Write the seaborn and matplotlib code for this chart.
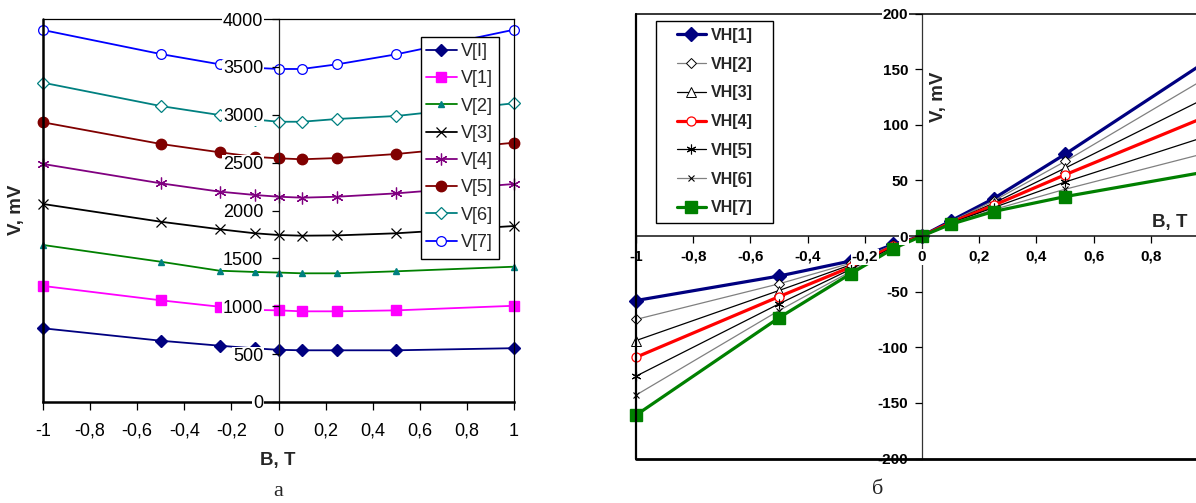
import matplotlib
matplotlib.use("Agg")
import matplotlib.pyplot as plt
import seaborn as sns
from matplotlib.patches import Rectangle

# ---------------- data ----------------
B = [-1, -0.5, -0.25, -0.1, 0, 0.1, 0.25, 0.5, 1]

# left chart (a): longitudinal voltage, mV
V_I = [770, 640, 588, 560, 545, 540, 540, 540, 562]
V_1 = [1212, 1062, 995, 962, 957, 947, 947, 957, 1005]
V_2 = [1640, 1465, 1371, 1358, 1352, 1344, 1344, 1365, 1413]
V_3 = [2068, 1883, 1804, 1762, 1744, 1737, 1740, 1762, 1838]
V_4 = [2486, 2284, 2197, 2162, 2144, 2134, 2144, 2179, 2277]
V_5 = [2921, 2695, 2608, 2560, 2545, 2535, 2548, 2590, 2708]
V_6 = [3335, 3091, 2997, 2950, 2927, 2927, 2956, 2987, 3120]
V_7 = [3885, 3634, 3527, 3490, 3478, 3478, 3527, 3631, 3888]
left_labels = ["V[I]", "V[1]", "V[2]", "V[3]", "V[4]", "V[5]", "V[6]", "V[7]"]

# right chart (б): Hall voltage, mV
VH_1 = [-58, -36, -22.5, -7.5, 0, 13.5, 33.6, 73.5, 158]
VH_2 = [-75, -43, -24.5, -8, 0, 13, 31.5, 67, 143]
VH_3 = [-94, -49, -26, -8.5, 0, 12.5, 29.5, 61, 125]
VH_4 = [-109, -54.5, -28, -9, 0, 12, 27.5, 55, 108]
VH_5 = [-126, -61, -30, -10, 0, 11.5, 25.5, 48.5, 90]
VH_6 = [-143, -67, -32, -10.5, 0, 11, 23.7, 42, 75]
VH_7 = [-161, -73.5, -34, -11.3, 0, 10.5, 22, 35.4, 58]
right_labels = ["VH[1]", "VH[2]", "VH[3]", "VH[4]", "VH[5]", "VH[6]", "VH[7]"]

x_ticks = [-1, -0.8, -0.6, -0.4, -0.2, 0, 0.2, 0.4, 0.6, 0.8, 1]
x_ticklabels = ["-1", "-0,8", "-0,6", "-0,4", "-0,2", "0", "0,2", "0,4", "0,6", "0,8", "1"]
right_x_ticks = [-1, -0.8, -0.6, -0.4, -0.2, 0, 0.2, 0.4, 0.6, 0.8]
right_x_ticklabels = ["-1", "-0,8", "-0,6", "-0,4", "-0,2", "0", "0,2", "0,4", "0,6", "0,8"]
left_yticks = [0, 500, 1000, 1500, 2000, 2500, 3000, 3500, 4000]
right_yticks = [-200, -150, -100, -50, 0, 50, 100, 150, 200]

# ---------------- styles ----------------
left_styles = [
    dict(color="#000080", marker="D", ms=6, mfc="#000080", mec="#000080", mew=1),
    dict(color="#FF00FF", marker="s", ms=7.5, mfc="#FF00FF", mec="#FF00FF", mew=1),
    dict(color="#008000", marker="^", ms=5, mfc="#008080", mec="#008080", mew=1),
    dict(color="#000000", marker="x", ms=6.5, mfc="none", mec="#000000", mew=0.9),
    dict(color="#800080", marker=(6, 2, 0), ms=8.5, mfc="none", mec="#800080", mew=0.9),
    dict(color="#800000", marker="o", ms=7.5, mfc="#800000", mec="#800000", mew=1),
    dict(color="#008080", marker="D", ms=6.5, mfc="white", mec="#008080", mew=0.9),
    dict(color="#0000FF", marker="o", ms=7, mfc="white", mec="#0000FF", mew=0.9),
]
right_styles = [
    dict(color="#000080", lw=2.3, marker="D", ms=7, mfc="#000080", mec="#000080", mew=1),
    dict(color="#808080", lw=0.9, marker="D", ms=5.5, mfc="white", mec="#000000", mew=0.7),
    dict(color="#000000", lw=0.9, marker="^", ms=6.5, mfc="white", mec="#000000", mew=0.7),
    dict(color="#FF0000", lw=2.3, marker="o", ms=6.5, mfc="white", mec="#FF0000", mew=0.9),
    dict(color="#000000", lw=0.9, marker=(6, 2, 0), ms=7, mfc="none", mec="#000000", mew=0.8),
    dict(color="#808080", lw=0.9, marker="x", ms=5, mfc="none", mec="#000000", mew=0.8),
    dict(color="#008000", lw=2.3, marker="s", ms=8, mfc="#008000", mec="#008000", mew=1),
]

sns.set_theme(style="white")
plt.rcParams["font.family"] = ["Liberation Sans", "DejaVu Sans"]
plt.rcParams["legend.numpoints"] = 1

W, H = 1196, 503
fig = plt.figure(figsize=(W / 100, H / 100), dpi=100)
fig.patch.set_facecolor("white")

def fx(px):
    return px / W

def fy(py):
    return 1 - py / H

# ---------------- left chart ----------------
axL = fig.add_axes([fx(43), fy(402), fx(514) - fx(43), fy(19) - fy(402)])
axL.set_facecolor("white")
for vals, lbl, st in zip([V_I, V_1, V_2, V_3, V_4, V_5, V_6, V_7], left_labels, left_styles):
    sns.lineplot(x=B, y=vals, ax=axL, label=lbl, lw=1.3, clip_on=False, zorder=2, **st)
axL.set_xlim(-1, 1)
axL.set_ylim(0, 4000)
axL.set_axisbelow(False)
axL.set_xticks(x_ticks, x_ticklabels)
axL.set_yticks(left_yticks, [str(v) for v in left_yticks])
axL.spines["left"].set_position(("data", 0))
axL.spines["left"].set_linewidth(0.9)
axL.spines["left"].set_color("#222222")
axL.spines["bottom"].set_linewidth(1.8)
axL.spines["bottom"].set_color("black")
for s in ["top", "right"]:
    axL.spines[s].set_linewidth(0.9)
    axL.spines[s].set_color("black")
axL.axvline(-1, color="black", lw=1.8, zorder=2.6, clip_on=False)
axL.tick_params(axis="y", direction="out", length=5, width=0.9, labelsize=13, pad=6, left=True, colors="black")
axL.tick_params(axis="x", direction="out", length=6, width=0.9, labelsize=13, pad=9, bottom=True, colors="black")
for t in axL.get_yticklabels():
    t.set_bbox(dict(facecolor="white", edgecolor="none", pad=0.5))
axL.set_xlabel("")
axL.set_ylabel("")
if axL.get_legend() is not None:
    axL.get_legend().remove()

hL, lL = axL.get_legend_handles_labels()
fig.add_artist(Rectangle((fx(421), fy(259)), fx(499) - fx(421), fy(37) - fy(259),
                         transform=fig.transFigure, facecolor="white", edgecolor="black",
                         lw=1.0, zorder=4))
fig.legend(hL, lL, loc="upper left", bbox_to_anchor=(fx(426), fy(43)),
           bbox_transform=fig.transFigure, frameon=False, fontsize=13,
           borderpad=0, borderaxespad=0, labelspacing=0.57, handlelength=1.7,
           handletextpad=0.25).set_zorder(5)

fig.text(fx(16), fy(210), "V, mV", rotation=90, ha="center", va="center",
         fontsize=13.5, fontweight="bold")
fig.text(fx(278), fy(460), "B, T", ha="center", va="center", fontsize=13.5, fontweight="bold")
fig.text(fx(278), fy(492), "а", ha="center", va="center", fontsize=16,
         family=["Liberation Serif", "DejaVu Serif"])

# ---------------- right chart ----------------
x_m1, x_0 = 636, 922
x_p1 = x_0 + (x_0 - x_m1)
axR = fig.add_axes([fx(x_m1), fy(458.5), fx(x_p1) - fx(x_m1), fy(13.5) - fy(458.5)])
axR.set_facecolor("none")
for vals, lbl, st in zip([VH_1, VH_2, VH_3, VH_4, VH_5, VH_6, VH_7], right_labels, right_styles):
    sns.lineplot(x=B, y=vals, ax=axR, label=lbl, clip_on=False, zorder=2, **st)
axR.set_xlim(-1, 1)
axR.set_ylim(-200, 200)
axR.set_axisbelow(False)
axR.set_xticks(right_x_ticks, right_x_ticklabels)
axR.set_yticks(right_yticks, [str(v) for v in right_yticks])
axR.spines["left"].set_position(("data", 0))
axR.spines["bottom"].set_position(("data", 0))
axR.spines["left"].set_linewidth(0.9)
axR.spines["left"].set_color("#333333")
axR.spines["bottom"].set_linewidth(1.1)
axR.spines["bottom"].set_color("#111111")
axR.spines["top"].set_linewidth(1.1)
axR.spines["top"].set_color("black")
axR.spines["right"].set_visible(False)
axR.axvline(-1, color="black", lw=1.6, zorder=2.6, clip_on=False)
axR.axhline(-200, color="black", lw=2.0, zorder=2.6, clip_on=False)
axR.tick_params(axis="y", direction="out", length=5, width=0.9, labelsize=11, pad=5, left=True, colors="black")
axR.tick_params(axis="x", direction="out", length=5, width=0.9, labelsize=11, pad=5, bottom=True, colors="black")
for t in axR.get_yticklabels() + axR.get_xticklabels():
    t.set_fontweight("bold")
    t.set_bbox(dict(facecolor="white", edgecolor="none", pad=0.5))
axR.set_xlabel("")
axR.set_ylabel("")
if axR.get_legend() is not None:
    axR.get_legend().remove()

hR, lR = axR.get_legend_handles_labels()
fig.add_artist(Rectangle((fx(656), fy(223)), fx(773) - fx(656), fy(21) - fy(223),
                         transform=fig.transFigure, facecolor="white", edgecolor="black",
                         lw=1.0, zorder=4))
legR = fig.legend(hR, lR, loc="upper left", bbox_to_anchor=(fx(677), fy(28)),
                  bbox_transform=fig.transFigure, frameon=False,
                  prop=dict(size=11.5, weight="bold"),
                  borderpad=0, borderaxespad=0, labelspacing=0.86, handlelength=1.8,
                  handletextpad=0.3)
legR.set_zorder(5)

fig.text(fx(938), fy(97), "V, mV", rotation=90, ha="center", va="center",
         fontsize=13.5, fontweight="bold")
fig.text(fx(1170), fy(222), "B, T", ha="center", va="center", fontsize=13.5, fontweight="bold")
fig.text(fx(878), fy(490), "б", ha="center", va="center", fontsize=16,
         family=["Liberation Serif", "DejaVu Serif"])

fig.savefig("out.png", dpi=100)
